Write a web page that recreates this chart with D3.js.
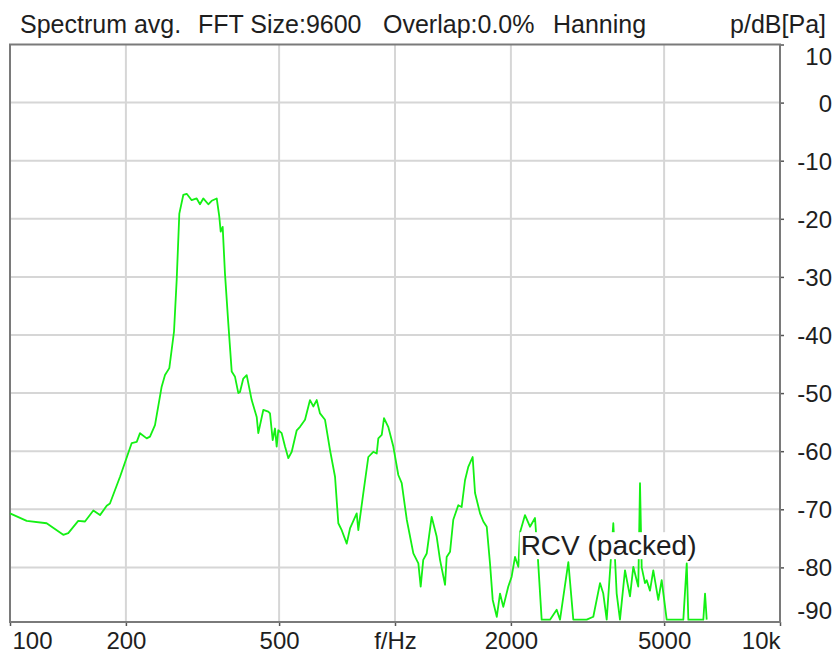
<!DOCTYPE html>
<html>
<head>
<meta charset="utf-8">
<script src="https://cdn.jsdelivr.net/npm/d3@7"></script>
<style>
  body { margin: 0; background: #fff; }
  text { font-family: "Liberation Sans", Arial, sans-serif; fill: #1e1e1e; }
</style>
</head>
<body>
<div class="chart"></div>
<script>
// data
const freq = [
  100, 110.5, 124.5, 137.5, 141.7, 150.4, 156.6, 164.6, 171.3, 178.3,
  181.8, 193.1, 207.1, 213.4, 217.6, 226.5, 231, 238, 247.7, 252.7,
  259.3, 266.7, 271, 275.3, 281.9, 287.7, 296.4, 305.4, 311.5, 317.7,
  327.4, 334.1, 344.3, 349.6, 352.6, 356.8, 361.7, 369, 376.6, 384.1,
  391.8, 395.7, 403.6, 411.9, 424.4, 437.3, 441.5, 454.9, 468.7, 473.5,
  481.2, 487.9, 492.8, 497.6, 507.8, 518, 528.4, 539.2, 555.6, 566.6,
  583.8, 601.5, 613.5, 626.1, 638.6, 658, 678, 698.6, 712.5, 727.2,
  749.2, 764.1, 795.3, 803, 827.4, 852.5, 878.3, 896.5, 905.1, 923.8,
  936.4, 960.3, 990, 1020, 1041, 1073, 1116, 1150, 1166, 1184,
  1209, 1245, 1283, 1309, 1349, 1362, 1390, 1417, 1460, 1490,
  1520, 1550, 1591, 1614, 1663, 1696, 1731, 1765, 1794, 1838,
  1874, 1911, 1969, 2009, 2050, 2091, 2112, 2176, 2242, 2310,
  2352, 2404, 2527, 2630, 2683, 2820, 2905, 3147, 3274, 3408,
  3475, 3547, 3690, 3765, 3840, 3957, 4077, 4159, 4284, 4329,
  4373, 4460, 4506, 4595, 4687, 4829, 4928, 5078, 5609, 5725,
  5780, 6322, 6387, 6451
];
const level = [
  -70.7, -72.0, -72.4, -74.4, -74.1, -72.0, -72.1, -70.2, -71.0, -69.4,
  -69.0, -64.4, -58.6, -58.4, -56.9, -57.8, -57.5, -55.5, -48.9, -46.9,
  -45.7, -39.4, -30.5, -19.1, -15.9, -15.7, -16.8, -16.5, -17.5, -16.5,
  -17.5, -16.9, -16.5, -19.6, -22.2, -21.4, -29.4, -38.0, -46.3, -47.2,
  -50.0, -49.8, -47.5, -46.9, -51.2, -54.1, -56.9, -52.9, -53.2, -53.5,
  -58.1, -56.1, -59.2, -56.4, -56.9, -59.2, -61.2, -60.1, -56.4, -55.8,
  -54.6, -51.2, -52.3, -51.2, -53.5, -54.6, -59.8, -64.4, -72.4, -73.6,
  -75.9, -73.3, -70.7, -73.6, -67.2, -61.0, -60.1, -60.4, -57.8, -57.2,
  -54.3, -55.8, -59.2, -64.1, -65.5, -71.8, -77.6, -79.3, -83.3, -78.7,
  -77.6, -71.3, -74.7, -78.7, -83.0, -78.2, -77.3, -71.8, -69.3, -69.6,
  -65.0, -62.7, -61.0, -67.2, -70.7, -72.1, -73.0, -79.3, -85.6, -88.5,
  -84.5, -86.8, -83.3, -81.6, -78.2, -79.9, -74.0, -71.0, -73.0, -71.5,
  -78.7, -89, -89, -87.3, -89, -79.1, -89, -89, -88.5, -82.7,
  -84.5, -89, -72.4, -84.5, -89, -80.5, -85.0, -79.9, -83.3, -65.5,
  -80.0, -82.7, -82.2, -84.0, -80.5, -85.6, -82.2, -89, -89, -79.3,
  -89, -89, -84.5, -89
];
const xTicks = [100, 200, 500, 1000, 2000, 5000, 10000];
const xTickLabels = ["100", "200", "500", "f/Hz", "2000", "5000", "10k"];
const yTicks = [10, 0, -10, -20, -30, -40, -50, -60, -70, -80, -90];
const titleParts = ["Spectrum avg.", "FFT Size:9600", "Overlap:0.0%", "Hanning"];
const unitLabel = "p/dB[Pa]";
const seriesLabel = "RCV (packed)";

const data = freq.map((f, i) => ({f: f, db: level[i]}));

const margin = ({top: 44.5, right: 56, bottom: 31, left: 10});
const width = 836 - margin.left - margin.right;
const height = 653 - margin.top - margin.bottom;

const svg = d3.select(".chart")
  .append("svg")
  .attr("width", 836)
  .attr("height", 653)
  .append("g")
  .attr("transform", "translate(" + margin.left + "," + margin.top + ")");

const xScale = d3.scaleLog()
  .domain([100, 10000])
  .range([0, width]);

const yScale = d3.scaleLinear()
  .domain([-89.4, 10])
  .range([height, 0]);

// grid
svg.append("g")
  .attr("class", "grid")
  .selectAll("line.vg")
  .data(xTicks.slice(1, -1))
  .join("line")
  .attr("x1", d => xScale(d)).attr("x2", d => xScale(d))
  .attr("y1", 0).attr("y2", height)
  .attr("stroke", "#d6d6d6").attr("stroke-width", 2);

svg.append("g")
  .attr("class", "grid")
  .selectAll("line.hg")
  .data(yTicks.filter(d => yScale(d) > 1 && yScale(d) < height - 1))
  .join("line")
  .attr("x1", 0).attr("x2", width)
  .attr("y1", d => yScale(d)).attr("y2", d => yScale(d))
  .attr("stroke", "#d6d6d6").attr("stroke-width", 2);

// axes
const xAxis = d3.axisBottom(xScale)
  .tickValues(xTicks)
  .tickSize(4)
  .tickFormat((d, i) => xTickLabels[i]);

const gx = svg.append("g")
  .attr("class", "axis x-axis")
  .attr("transform", `translate(0, ${height})`)
  .call(xAxis);
gx.select(".domain").remove();
gx.selectAll(".tick line").attr("stroke", "#555").attr("stroke-width", 1.5);
gx.selectAll(".tick text")
  .attr("y", 27)
  .attr("dy", 0)
  .style("font-size", "24px")
  .attr("text-anchor", (d, i) => i === 0 ? "start" : (i === xTicks.length - 1 ? "end" : "middle"))
  .attr("dx", (d, i) => i === 0 ? 2 : 0);

const yAxis = d3.axisRight(yScale)
  .tickValues(yTicks)
  .tickSize(4)
  .tickFormat(d => String(d));

const gy = svg.append("g")
  .attr("class", "axis y-axis")
  .attr("transform", `translate(${width}, 0)`)
  .call(yAxis);
gy.select(".domain").remove();
gy.selectAll(".tick line").attr("stroke", "#555").attr("stroke-width", 1.5);
gy.selectAll(".tick")
  .filter(d => yScale(d) > height)
  .select("line").remove();
gy.selectAll(".tick text")
  .attr("x", 52)
  .attr("text-anchor", "end")
  .style("font-size", "24px")
  .attr("dy", "0.35em")
  .attr("transform", d => {
    const y = yScale(d);
    const yy = Math.max(12, Math.min(height - 12, y));
    return `translate(0, ${yy - y})`;
  });

// frame
svg.append("rect")
  .attr("x", 0).attr("y", 0)
  .attr("width", width).attr("height", height)
  .attr("fill", "none")
  .attr("stroke", "#7a7a7a")
  .attr("stroke-width", 2);

// spectrum line
const line = d3.line()
  .x(d => xScale(d.f))
  .y(d => yScale(d.db));

svg.append("path")
  .datum(data)
  .attr("fill", "none")
  .attr("stroke", "#14f014")
  .attr("stroke-width", 1.8)
  .attr("stroke-linejoin", "round")
  .attr("d", line);

// series label with white box
const lab = svg.append("g");
const labText = lab.append("text")
  .attr("x", xScale(2120))
  .attr("y", yScale(-77.9))
  .style("font-size", "28px")
  .text(seriesLabel);
const bb = labText.node().getBBox();
lab.insert("rect", "text")
  .attr("x", bb.x - 1).attr("y", bb.y + 2)
  .attr("width", bb.width + 2).attr("height", bb.height - 4)
  .attr("fill", "#fff");

// title + unit
const titleX = [20, 198, 383, 553];
svg.append("g")
  .selectAll("text")
  .data(titleParts)
  .join("text")
  .attr("x", (d, i) => titleX[i] - margin.left)
  .attr("y", 33 - margin.top)
  .style("font-size", "25px")
  .text(d => d);

svg.append("text")
  .attr("x", 826 - margin.left)
  .attr("y", 33 - margin.top)
  .attr("text-anchor", "end")
  .style("font-size", "25px")
  .text(unitLabel);
</script>
</body>
</html>
